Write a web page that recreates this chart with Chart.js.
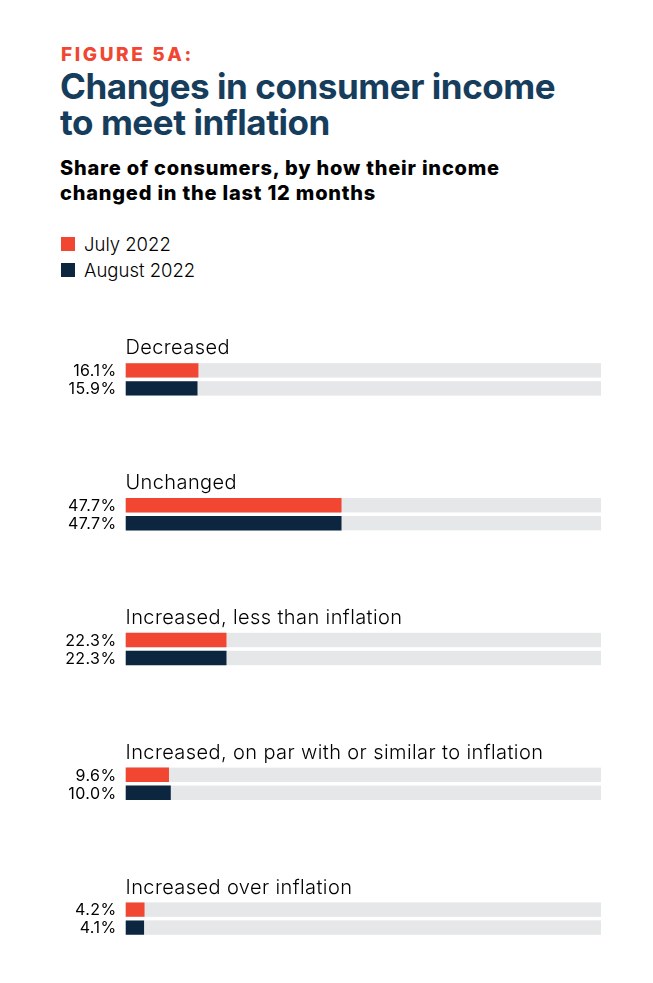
<!DOCTYPE html>
<html>
<head>
<meta charset="utf-8">
<script src="https://cdn.jsdelivr.net/npm/chart.js@4/dist/chart.umd.min.js"></script>
<style>
  html, body { margin: 0; padding: 0; width: 653px; height: 983px; overflow: hidden; background: #fff; font-family: Inter, "Noto Sans", sans-serif; }
  #fig { position: absolute; left: 61px; top: 43px; font-size: 19px; font-weight: 800; letter-spacing: 2.6px; color: #f04632; }
  #title { position: absolute; left: 60px; top: 68px; font-size: 35px; line-height: 36px; font-weight: 700; color: #163d5c; letter-spacing: -0.45px; }
  #sub { position: absolute; left: 60px; top: 156px; font-size: 20px; line-height: 25px; font-weight: 800; color: #000; letter-spacing: 0.8px; }
  #legend { position: absolute; left: 61px; top: 231px; font-size: 18.5px; font-weight: 300; color: #000; }
  .li { display: flex; align-items: center; height: 26px; }
  .sw { width: 14px; height: 14px; margin-right: 9px; }
  #wrap { position: absolute; left: 0; top: 312px; width: 653px; height: 674px; }
</style>
</head>
<body>
<div id="fig">FIGURE 5A:</div>
<div id="title">Changes in consumer income<br>to meet inflation</div>
<div id="sub">Share of consumers, by how their income<br>changed in the last 12 months</div>
<div id="legend"></div>
<div id="wrap"><canvas id="c"></canvas></div>
<script>
const categories = [
  "Decreased",
  "Unchanged",
  "Increased, less than inflation",
  "Increased, on par with or similar to inflation",
  "Increased over inflation"
];
const seriesNames = ["July 2022", "August 2022"];
const july2022 = [16.1, 47.7, 22.3, 9.6, 4.2];
const august2022 = [15.9, 47.7, 22.3, 10.0, 4.1];
const seriesColors = ["#f04632", "#0d2640"];
const trackColor = "#e6e7e9";
const AXIS_MAX = 105;

// HTML legend
const legendEl = document.getElementById('legend');
seriesNames.forEach((n, i) => {
  const d = document.createElement('div');
  d.className = 'li';
  d.innerHTML = '<span class="sw" style="background:' + seriesColors[i] + '"></span><span>' + n + '</span>';
  legendEl.appendChild(d);
});

const trackPlugin = {
  id: 'track',
  beforeDatasetsDraw(chart) {
    const ctx = chart.ctx, area = chart.chartArea;
    ctx.save();
    ctx.fillStyle = trackColor;
    chart.data.datasets.forEach((ds, di) => {
      chart.getDatasetMeta(di).data.forEach(el => {
        const h = el.height;
        ctx.fillRect(area.left, el.y - h / 2, area.right - area.left, h);
      });
    });
    ctx.restore();
  },
  afterDatasetsDraw(chart) {
    const ctx = chart.ctx, area = chart.chartArea;
    ctx.save();
    // value labels
    ctx.font = '400 16px Inter, "Noto Sans", sans-serif';
    if ('letterSpacing' in ctx) ctx.letterSpacing = '0.4px';
    ctx.fillStyle = '#000';
    ctx.textAlign = 'right';
    ctx.textBaseline = 'middle';
    chart.data.datasets.forEach((ds, di) => {
      chart.getDatasetMeta(di).data.forEach((el, i) => {
        ctx.fillText(ds.data[i].toFixed(1) + '%', area.left - 9, el.y + 1);
      });
    });
    // category labels
    ctx.font = '300 20px Inter, "Noto Sans", sans-serif';
    if ('letterSpacing' in ctx) ctx.letterSpacing = '0.4px';
    ctx.textAlign = 'left';
    ctx.textBaseline = 'alphabetic';
    const yScale = chart.scales.y;
    categories.forEach((c, i) => {
      const yc = yScale.getPixelForValue(i);
      ctx.fillText(c, area.left, yc - 25);
    });
    ctx.restore();
  }
};

new Chart(document.getElementById('c'), {
  type: 'bar',
  data: {
    labels: categories,
    datasets: [
      { label: seriesNames[0], data: july2022, backgroundColor: seriesColors[0] },
      { label: seriesNames[1], data: august2022, backgroundColor: seriesColors[1] }
    ]
  },
  options: {
    indexAxis: 'y',
    responsive: true,
    maintainAspectRatio: false,
    animation: false,
    categoryPercentage: 0.267,
    barPercentage: 0.8,
    layout: { padding: { left: 125.5, right: 52, top: 0, bottom: 0 } },
    scales: {
      x: { display: false, min: 0, max: AXIS_MAX },
      y: { display: false }
    },
    plugins: { legend: { display: false }, tooltip: { enabled: false } }
  },
  plugins: [trackPlugin]
});
</script>
</body>
</html>
